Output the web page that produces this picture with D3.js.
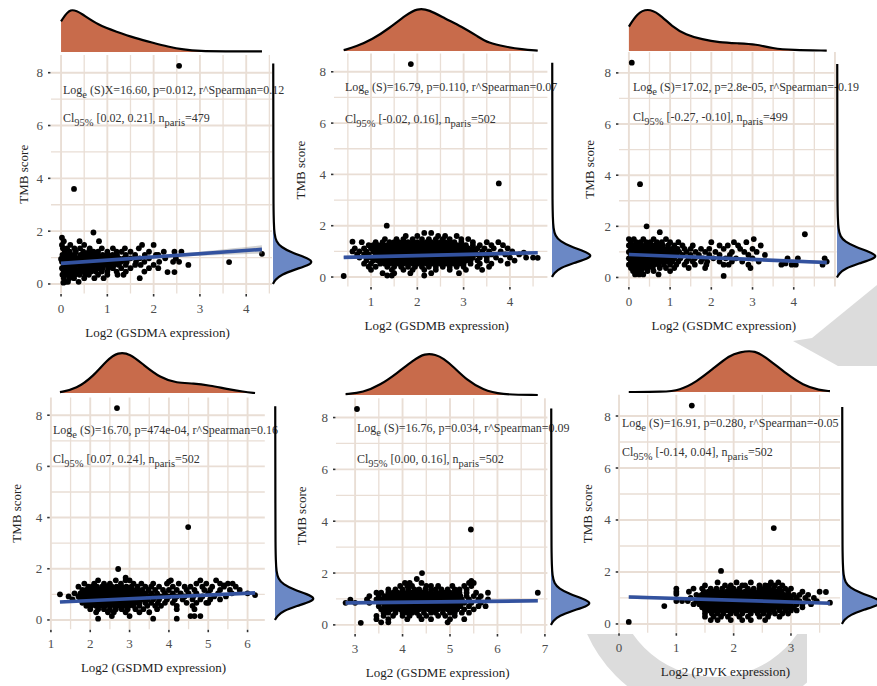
<!DOCTYPE html>
<html><head><meta charset="utf-8">
<script src="https://cdn.jsdelivr.net/npm/d3@7"></script>
<style>
body{margin:0;background:#fff}
svg{display:block}
</style>
</head><body>
<svg id="c" width="877" height="686" font-family="'Liberation Serif', 'DejaVu Serif', serif"></svg>
<script>
// ---------------- DATA ----------------
const genes = ["GSDMA","GSDMB","GSDMC","GSDMD","GSDME","PJVK"];
const xTicks = [[0,1,2,3,4],[1,2,3,4],[0,1,2,3,4],[1,2,3,4,5,6],[3,4,5,6,7],[0,1,2,3]];
const yTicks = [0,2,4,6,8];
const statS   = ["(S)X=16.60","(S)=16.79","(S)=17.02","(S)=16.70","(S)=16.76","(S)=16.91"];
const statP   = ["0.012","0.110","2.8e-05","474e-04","0.034","0.280"];
const statRho = ["0.12","0.07","-0.19","0.16","0.09","-0.05"];
const statCI  = ["[0.02, 0.21]","[-0.02, 0.16]","[-0.27, -0.10]","[0.07, 0.24]","[0.00, 0.16]","[-0.14, 0.04]"];
const statN   = [479,502,499,502,502,502];
// regression: [intercept, slope]; confidence half-width at [xmin, xmean, xmax]
const regFit  = [[0.78,0.122],[0.75,0.043],[0.90,-0.065],[0.61,0.0726],[0.795,0.0197],[1.05,-0.068]];
const regSE   = [[0.05,0.03,0.16],[0.05,0.02,0.06],[0.04,0.02,0.08],[0.05,0.02,0.06],[0.08,0.02,0.07],[0.08,0.02,0.06]];

// scatter points, rows "y: x x x ..." plus single "x,y" points
const ptsGSDMA = [
 "1.62:0.06 0.4 0.82",
 "1.48:0.02 0.2 0.5 1.75 2.0",
 "1.35:0.04 0.13 0.29 0.41 0.62 0.88 1.12 1.38 1.68",
 "1.22:0.08 0.19 0.32 0.48 0.6 0.7 0.8 1.0 1.2 1.31 1.5 1.9 2.22 2.45 2.6",
 "1.1:0.03 0.12 0.22 0.3 0.42 0.52 0.61 0.72 0.79 0.9 1.01 1.11 1.21 1.4 1.6 1.81 2.05 2.1",
 "0.97:0.06 0.15 0.25 0.35 0.45 0.55 0.65 0.75 0.85 0.95 1.05 1.15 1.25 1.35 1.5 1.7 1.9 2.25 2.48",
 "0.84:0.02 0.1 0.2 0.3 0.4 0.5 0.6 0.7 0.8 0.9 1.0 1.1 1.2 1.3 1.42 1.62 1.8 2.12 2.42 2.55",
 "0.72:0.06 0.15 0.25 0.35 0.45 0.55 0.65 0.75 0.85 0.95 1.05 1.15 1.25 1.4 1.6 1.72 2.0 2.75",
 "0.6:0.02 0.1 0.2 0.3 0.41 0.5 0.61 0.7 0.81 0.9 1.02 1.12 1.3 1.5 1.9 2.1",
 "0.47:0.06 0.15 0.25 0.35 0.45 0.55 0.65 0.75 0.88 1.0 1.2 1.4 1.8",
 "0.35:0.03 0.12 0.2 0.3 0.4 0.52 0.6 0.8 1.0 1.22 1.35",
 "0.22:0.06 0.18 0.28 0.5 0.72 0.92 1.7",
 "0.08:0.1 0.15 0.38",
 "2.55,8.26 0.28,3.6 3.63,0.83 4.34,1.14 0.02,1.75 0.7,1.95 2.3,0.45 2.45,0.45 0.0,0.95 0.05,0.05"
];
const ptsGSDMB = [
 "1.72:2.15 2.3",
 "1.6:1.75 2.0 2.45 2.6 2.85",
 "1.48:1.3 1.55 1.7 1.9 2.1 2.25 2.4 2.55 2.7 2.95 3.1",
 "1.36:0.8 1.1 1.25 1.4 1.5 1.6 1.7 1.8 1.9 2.0 2.1 2.2 2.3 2.4 2.5 2.6 2.7 2.8 2.95 3.2 3.5 3.75",
 "1.24:0.95 1.05 1.15 1.25 1.35 1.45 1.55 1.65 1.75 1.85 1.95 2.05 2.15 2.25 2.35 2.45 2.55 2.65 2.75 2.85 2.95 3.05 3.2 3.35 3.6 3.85",
 "1.12:0.65 0.85 1.0 1.1 1.2 1.3 1.4 1.5 1.6 1.7 1.8 1.9 2.0 2.1 2.2 2.3 2.4 2.5 2.6 2.7 2.8 2.9 3.0 3.1 3.2 3.3 3.45 3.65 3.95",
 "1.0:0.6 0.75 0.9 1.05 1.15 1.25 1.35 1.45 1.55 1.65 1.75 1.85 1.95 2.05 2.15 2.25 2.35 2.45 2.55 2.65 2.75 2.85 2.95 3.05 3.15 3.25 3.4 3.55 3.8 4.05",
 "0.88:0.7 0.85 0.95 1.1 1.2 1.3 1.4 1.5 1.6 1.7 1.8 1.9 2.0 2.1 2.2 2.3 2.4 2.5 2.6 2.7 2.8 2.9 3.0 3.1 3.2 3.3 3.45 3.6 3.9 4.2",
 "0.76:0.75 0.9 1.0 1.1 1.2 1.3 1.4 1.5 1.6 1.7 1.8 1.9 2.0 2.1 2.2 2.3 2.4 2.5 2.6 2.7 2.8 2.9 3.0 3.1 3.2 3.35 3.5 3.7 4.0 4.35 4.5",
 "0.64:0.9 1.05 1.15 1.25 1.35 1.45 1.55 1.65 1.75 1.85 1.95 2.05 2.15 2.25 2.35 2.45 2.55 2.65 2.75 2.85 2.95 3.05 3.15 3.3 3.5 3.8 4.1",
 "0.52:0.85 1.0 1.2 1.3 1.4 1.5 1.6 1.7 1.8 1.9 2.0 2.1 2.2 2.3 2.4 2.5 2.6 2.7 2.8 2.9 3.0 3.15 3.35 3.6 3.95",
 "0.4:0.95 1.1 1.35 1.5 1.65 1.8 1.95 2.1 2.25 2.4 2.55 2.7 2.85 3.0 3.3 3.55",
 "0.28:1.0 1.45 1.7 1.9 2.15 2.4 2.7 3.05 3.4",
 "0.15:1.25 1.5 1.85 2.3 2.9",
 "0.06:1.35 1.45 2.15",
 "1.86,8.3 3.76,3.65 1.34,2.0 0.41,0.04 4.6,0.75 0.6,1.38 4.3,0.95"
];
const ptsGSDMC = [
 "1.5:0.0 0.12 0.35 0.6 0.9 3.03",
 "1.38:0.05 0.18 0.28 0.42 0.52 0.68 0.8 1.0 1.2 2.0 2.55 2.85",
 "1.25:0.0 0.1 0.2 0.3 0.4 0.5 0.6 0.7 0.82 0.95 1.1 1.3 1.55 2.2 2.4 2.65 3.2",
 "1.12:0.05 0.15 0.25 0.35 0.45 0.55 0.65 0.75 0.85 0.95 1.05 1.18 1.35 1.5 1.75 1.95 2.3 2.7 3.0",
 "1.0:0.0 0.1 0.2 0.3 0.4 0.5 0.6 0.7 0.8 0.9 1.0 1.1 1.22 1.4 1.62 1.85 2.1 2.5 2.8 3.1",
 "0.88:0.05 0.15 0.25 0.35 0.45 0.55 0.65 0.75 0.85 0.95 1.05 1.15 1.3 1.5 1.7 1.95 2.2 2.45 2.9 3.3",
 "0.75:0.0 0.1 0.2 0.3 0.4 0.5 0.6 0.7 0.8 0.9 1.0 1.1 1.25 1.45 1.6 1.8 2.05 2.35 2.6 3.0 3.85 4.1 4.75",
 "0.62:0.05 0.15 0.25 0.35 0.45 0.55 0.65 0.75 0.85 0.95 1.05 1.2 1.4 1.55 1.75 1.9 2.2 2.5 2.75 3.15",
 "0.5:0.0 0.1 0.2 0.3 0.4 0.5 0.6 0.72 0.85 1.0 1.15 1.35 1.6 1.88 2.3 2.42 2.9 3.7 3.95 4.05 4.7",
 "0.37:0.05 0.15 0.25 0.35 0.45 0.58 0.75 0.9 1.1 1.45 1.85 2.95",
 "0.25:0.1 0.2 0.3 0.45 0.6 1.0",
 "0.12:0.15 0.25 0.35 0.72",
 "0.07,8.4 0.27,3.65 0.43,2.0 4.27,1.69 0.75,1.77 2.3,0.06 3.8,0.55 4.8,0.62"
];
const ptsGSDMD = [
 "1.55:2.2 2.65 2.9 3.0 4.05 4.8 5.2",
 "1.42:1.85 2.1 2.35 2.5 2.78 3.1 3.3 3.6 3.95 4.25 4.7 4.95 5.3 5.5 5.62",
 "1.3:1.7 1.95 2.05 2.17 2.3 2.42 2.55 2.67 2.8 2.92 3.05 3.2 3.4 3.55 3.75 4.1 4.4 4.55 4.85 5.1 5.4 5.7",
 "1.17:1.8 1.9 2.0 2.12 2.24 2.36 2.48 2.6 2.72 2.84 2.96 3.08 3.2 3.32 3.48 3.65 3.85 4.0 4.2 4.45 4.65 4.9 5.05 5.3 5.55 5.8",
 "1.04:1.6 1.75 1.85 1.97 2.09 2.21 2.33 2.45 2.57 2.69 2.81 2.93 3.05 3.17 3.29 3.41 3.55 3.7 3.9 4.1 4.3 4.5 4.7 5.0 5.25 5.6 6.0",
 "0.92:1.45 1.7 1.8 1.92 2.03 2.15 2.27 2.39 2.51 2.63 2.75 2.87 2.99 3.11 3.23 3.35 3.5 3.65 3.8 4.0 4.2 4.4 4.62 4.85 5.15 5.45",
 "0.8:1.55 1.75 1.88 2.0 2.12 2.24 2.36 2.48 2.6 2.72 2.84 2.96 3.08 3.2 3.32 3.45 3.6 3.75 3.95 4.15 4.35 4.6 4.8 5.05 5.3",
 "0.67:1.8 1.93 2.05 2.17 2.29 2.41 2.53 2.65 2.77 2.89 3.01 3.13 3.25 3.4 3.55 3.72 3.9 4.1 4.45 4.7 4.95 5.0",
 "0.55:1.9 2.02 2.14 2.26 2.38 2.5 2.62 2.74 2.86 2.98 3.1 3.25 3.45 3.65 3.8 4.2 4.6",
 "0.42:2.0 2.2 2.35 2.5 2.65 2.8 2.95 3.15 3.35 3.7 4.2 4.65",
 "0.3:2.15 2.45 2.6 2.9 3.25 3.5",
 "0.15:2.55 3.0 4.55 4.65 4.8",
 "0.05:2.2 3.6 4.2",
 "2.68,8.28 4.49,3.63 2.71,1.99 1.23,1.0 6.19,0.97 2.9,1.65 4.0,1.5 5.4,1.35"
];
const ptsGSDME = [
 "1.62:4.05 4.15 4.4 5.4 5.5",
 "1.5:3.95 4.1 4.2 4.5 4.6 4.75 5.05 5.3 5.45",
 "1.37:3.7 3.85 4.0 4.12 4.25 4.35 4.48 4.6 4.7 4.82 4.95 5.1 5.2 5.35",
 "1.24:3.45 3.55 3.7 3.8 3.9 4.0 4.1 4.2 4.3 4.4 4.5 4.6 4.7 4.8 4.9 5.0 5.1 5.2 5.35 5.55 5.8",
 "1.11:3.3 3.5 3.62 3.72 3.82 3.92 4.02 4.12 4.22 4.32 4.42 4.52 4.62 4.72 4.82 4.92 5.02 5.12 5.22 5.35 5.5 5.65",
 "0.98:3.25 3.45 3.55 3.65 3.75 3.85 3.95 4.05 4.15 4.25 4.35 4.45 4.55 4.65 4.75 4.85 4.95 5.05 5.15 5.25 5.4 5.6 5.8",
 "0.85:3.0 3.3 3.5 3.6 3.7 3.8 3.9 4.0 4.1 4.2 4.3 4.4 4.5 4.6 4.7 4.8 4.9 5.0 5.1 5.2 5.3 5.45 5.65",
 "0.72:3.5 3.62 3.72 3.82 3.92 4.02 4.12 4.22 4.32 4.42 4.52 4.62 4.72 4.82 4.92 5.02 5.12 5.22 5.4 5.6 5.75",
 "0.6:3.55 3.65 3.75 3.85 3.95 4.05 4.15 4.25 4.35 4.45 4.55 4.65 4.75 4.85 4.95 5.05 5.15 5.3 5.5",
 "0.47:3.6 3.7 3.85 4.0 4.1 4.2 4.3 4.45 4.6 4.7 4.85 5.0 5.1 5.25 5.4",
 "0.35:3.45 3.6 3.8 4.0 4.15 4.35 4.5 4.75 4.9 5.1",
 "0.22:3.45 3.7 4.1 4.4 4.6 5.0 5.3",
 "0.1:3.55 3.7 4.95",
 "3.04,8.33 5.44,3.68 4.41,2.0 6.85,1.24 2.9,0.97 3.12,0.08 4.3,1.77 5.45,1.7 2.8,0.85"
];
const ptsPJVK = [
 "1.6:1.72 2.05 2.3 2.65 2.78",
 "1.48:1.5 1.85 1.95 2.15 2.2 2.45 2.55 2.62 2.72 2.85",
 "1.36:1.0 1.3 1.45 1.6 1.7 1.8 1.92 2.0 2.1 2.25 2.35 2.45 2.53 2.61 2.7 2.8 2.9 3.0",
 "1.24:1.0 1.22 1.48 1.56 1.64 1.72 1.8 1.88 1.96 2.04 2.12 2.2 2.28 2.36 2.44 2.52 2.6 2.68 2.76 2.84 2.95 3.2 3.5",
 "1.12:1.35 1.44 1.52 1.6 1.68 1.76 1.84 1.92 2.0 2.08 2.16 2.24 2.32 2.4 2.48 2.56 2.64 2.72 2.8 2.88 2.96 3.05 3.15 3.3",
 "1.0:1.25 1.4 1.48 1.56 1.64 1.72 1.8 1.88 1.96 2.04 2.12 2.2 2.28 2.36 2.44 2.52 2.6 2.68 2.76 2.84 2.92 3.0 3.1 3.25 3.4",
 "0.88:1.0 1.1 1.2 1.35 1.44 1.52 1.6 1.68 1.76 1.84 1.92 2.0 2.08 2.16 2.24 2.32 2.4 2.48 2.56 2.64 2.72 2.8 2.88 2.96 3.05 3.15 3.3 3.45",
 "0.76:1.3 1.4 1.48 1.56 1.64 1.72 1.8 1.88 1.96 2.04 2.12 2.2 2.28 2.36 2.44 2.52 2.6 2.68 2.76 2.84 2.92 3.0 3.1 3.2 3.35",
 "0.64:1.45 1.52 1.6 1.68 1.76 1.84 1.92 2.0 2.08 2.16 2.24 2.32 2.4 2.48 2.56 2.64 2.72 2.8 2.88 2.96 3.05 3.2",
 "0.52:1.5 1.58 1.66 1.74 1.82 1.9 1.98 2.06 2.14 2.22 2.3 2.38 2.46 2.54 2.62 2.7 2.8 2.9 3.0 3.1",
 "0.4:1.5 1.62 1.72 1.82 1.95 2.05 2.15 2.3 2.42 2.52 2.62 2.72 2.85 2.95",
 "0.28:1.5 1.65 1.78 1.9 2.1 2.25 2.45 2.6 2.8",
 "0.15:1.6 1.72 1.95 2.15 2.3 2.55",
 "1.27,8.4 2.7,3.69 1.78,2.04 0.17,0.08 0.79,0.69 3.61,1.23 3.68,0.82 1.0,1.15"
];
const allPts = [ptsGSDMA, ptsGSDMB, ptsGSDMC, ptsGSDMD, ptsGSDME, ptsPJVK];

// marginal densities of expression (x, relative height)
const densGSDMA = [[0,0.68],[0.2,1.0],[0.45,0.85],[0.8,0.6],[1.2,0.45],[1.6,0.31],[2.0,0.2],[2.3,0.12],[2.65,0.05],[3.0,0.02],[3.5,0.015],[4.34,0.015]];
const densGSDMB = [[0.41,0.02],[0.67,0.1],[1.03,0.27],[1.39,0.53],[1.75,0.84],[2.0,1.0],[2.25,0.97],[2.6,0.76],[2.96,0.57],[3.32,0.33],[3.53,0.19],[3.9,0.1],[4.26,0.04],[4.6,0.01]];
const densGSDMC = [[0.0,0.57],[0.2,0.88],[0.45,1.0],[0.73,0.88],[1.05,0.57],[1.38,0.38],[1.78,0.27],[2.19,0.2],[2.67,0.18],[3.08,0.16],[3.48,0.06],[3.97,0.02],[4.8,0.01]];
const densGSDMD = [[1.23,0.02],[1.65,0.1],[2.08,0.41],[2.42,0.8],[2.71,1.0],[3.01,0.96],[3.35,0.69],[3.78,0.37],[4.2,0.24],[4.63,0.24],[5.05,0.18],[5.47,0.1],[5.9,0.03],[6.19,0.0]];
const densGSDME = [[2.8,0.02],[3.17,0.06],[3.53,0.24],[3.88,0.52],[4.23,0.84],[4.47,1.0],[4.7,0.97],[4.86,0.88],[5.07,0.68],[5.35,0.36],[5.7,0.12],[6.05,0.01],[6.85,0.0]];
const densPJVK  = [[0.17,0.0],[0.77,0.0],[1.06,0.04],[1.35,0.24],[1.64,0.55],[1.93,0.87],[2.1,0.94],[2.37,1.0],[2.63,0.75],[2.92,0.43],[3.21,0.16],[3.5,0.04],[3.68,0.02]];
const allDens = [densGSDMA, densGSDMB, densGSDMC, densGSDMD, densGSDME, densPJVK];
// marginal density of TMB score (TMB, relative width)
const densTMB = [[0.0,0.0],[0.15,0.05],[0.35,0.2],[0.55,0.55],[0.72,0.9],[0.85,1.0],[1.0,0.82],[1.2,0.45],[1.4,0.2],[1.6,0.08],[1.9,0.035],[2.3,0.02],[3.0,0.012],[4.0,0.01],[8.35,0.006]];

// ---------------- LAYOUT ----------------
const layout = [
 {l:51,  r:272,   t:55,    b:293.5, topBase:52,  topH:45,   rBase:273, rW:40, yLabX:23,  sx:63,  s1:94,  s2:122},
 {l:334, r:547.4, t:53.5,  b:286.6, topBase:51,  topH:42.7, rBase:552, rW:40, yLabX:300, sx:345, s1:91,  s2:123},
 {l:619, r:836.6, t:52,    b:286.6, topBase:51,  topH:42.7, rBase:837, rW:40, yLabX:589, sx:633, s1:91,  s2:121},
 {l:50.2,r:264.8, t:397.5, b:629.2, topBase:393, topH:41,   rBase:275, rW:40, yLabX:16,  sx:53,  s1:434, s2:463},
 {l:336, r:547.4, t:398.3, b:633.5, topBase:395, topH:41.7, rBase:551, rW:40, yLabX:301, sx:357, s1:432, s2:463},
 {l:618.7,r:840,  t:394.8, b:632.7, topBase:392, topH:42.3, rBase:842, rW:40, yLabX:587, sx:622, s1:427, s2:456}
];

const gridCol = "#e9ded5", ptCol = "#000", lineCol = "#33529f";
const topFill = "#c86b4b", rightFill = "#6b88c5", markCol = "#dcdcdc";
const FONT = "'Liberation Serif', 'DejaVu Serif', serif";

function parsePts(rows){
  const out=[];
  rows.forEach(r=>{
    if(r.indexOf(":")>=0){
      const [y,xs]=r.split(":");
      xs.trim().split(/\s+/).forEach(x=>out.push([+x,+y]));
    } else {
      r.trim().split(/\s+/).forEach(p=>{const [x,y]=p.split(","); out.push([+x,+y]);});
    }
  });
  return out;
}
function expand(ext){const d=(ext[1]-ext[0])*0.05;return [ext[0]-d,ext[1]+d];}

const svg = d3.select("#c");
svg.append("rect").attr("width",877).attr("height",686).attr("fill","#fff");

// light gray page watermark behind the figure
const wm = svg.append("g").attr("fill",markCol);
wm.append("path").attr("d","M877,285 L877,366 L838,366 L793,341 L812,338 Z");
svg.append("clipPath").attr("id","wmclip").append("rect").attr("x",585).attr("y",634).attr("width",222).attr("height",60);
wm.append("g").attr("clip-path","url(#wmclip)")
  .append("path")
  .attr("d",d3.arc().innerRadius(100).outerRadius(140).startAngle(0).endAngle(2*Math.PI)())
  .attr("transform","translate(715,577)");

genes.forEach((g,i)=>{
  const L = layout[i];
  const pts = parsePts(allPts[i]);
  const xExt = d3.extent(pts,d=>d[0]), yExt = d3.extent(pts,d=>d[1]);
  const xs = d3.scaleLinear().domain(expand(xExt)).range([L.l,L.r]);
  const ys = d3.scaleLinear().domain(expand(yExt)).range([L.b,L.t]);
  const G = svg.append("g").attr("font-family",FONT);

  // panel background + grid
  G.append("rect").attr("x",L.l).attr("y",L.t).attr("width",L.r-L.l).attr("height",L.b-L.t).attr("fill","#fff");
  const xd = xs.domain(), yd = ys.domain();
  const gx = d3.range(Math.ceil(xd[0]*2)/2, xd[1]+1e-9, 0.5);
  const gy = d3.range(Math.ceil(yd[0]), yd[1]+1e-9, 1);
  G.selectAll(".gx").data(gx).join("line")
    .attr("x1",d=>xs(d)).attr("x2",d=>xs(d)).attr("y1",L.t).attr("y2",L.b)
    .attr("stroke",gridCol).attr("stroke-width",d=>Number.isInteger(d)?1.9:1.3);
  G.selectAll(".gy").data(gy).join("line")
    .attr("y1",d=>ys(d)).attr("y2",d=>ys(d)).attr("x1",L.l).attr("x2",L.r)
    .attr("stroke",gridCol).attr("stroke-width",d=>d%2===0?1.9:1.3);

  // ticks + labels
  G.selectAll(".tx").data(xTicks[i]).join("line")
    .attr("x1",d=>xs(d)).attr("x2",d=>xs(d)).attr("y1",L.b+0.5).attr("y2",L.b+3)
    .attr("stroke","#333").attr("stroke-width",1.6);
  G.selectAll(".lx").data(xTicks[i]).join("text")
    .attr("x",d=>xs(d)).attr("y",L.b+19).attr("text-anchor","middle")
    .attr("font-size",13).attr("fill","#4d4d4d").text(d=>d);
  G.selectAll(".ty").data(yTicks).join("line")
    .attr("y1",d=>ys(d)).attr("y2",d=>ys(d)).attr("x1",L.l-3).attr("x2",L.l-0.5)
    .attr("stroke","#333").attr("stroke-width",1.6);
  G.selectAll(".ly").data(yTicks).join("text")
    .attr("x",L.l-8).attr("y",d=>ys(d)+4.5).attr("text-anchor","end")
    .attr("font-size",13).attr("fill","#4d4d4d").text(d=>d);

  // axis titles
  G.append("text").attr("x",(L.l+L.r)/2-4).attr("y",L.b+43).attr("text-anchor","middle")
    .attr("font-size",13).attr("fill","#222").text(`Log2 (${g} expression)`);
  G.append("text").attr("transform",`translate(${L.yLabX+4.5},${(L.t+L.b)/2}) rotate(-90)`)
    .attr("text-anchor","middle").attr("font-size",13).attr("fill","#222").text("TMB score");

  // points
  G.selectAll(".pt").data(pts).join("circle")
    .attr("cx",d=>xs(d[0])).attr("cy",d=>ys(d[1])).attr("r",2.9).attr("fill",ptCol);

  // regression band + line
  const [a,b] = regFit[i], se = regSE[i];
  const xm = d3.mean(pts,d=>d[0]);
  const seAt = x => x<xm ? se[1]+(se[0]-se[1])*Math.pow((xm-x)/(xm-xExt[0]),2)
                         : se[1]+(se[2]-se[1])*Math.pow((x-xm)/(xExt[1]-xm),2);
  const bx = d3.range(0,31).map(k=>xExt[0]+(xExt[1]-xExt[0])*k/30);
  G.append("path").datum(bx)
    .attr("d",d3.area().x(x=>xs(x)).y0(x=>ys(a+b*x-seAt(x))).y1(x=>ys(a+b*x+seAt(x))))
    .attr("fill","#9a9a9a").attr("opacity",0.45);
  G.append("line").attr("x1",xs(xExt[0])).attr("x2",xs(xExt[1]))
    .attr("y1",ys(a+b*xExt[0])).attr("y2",ys(a+b*xExt[1]))
    .attr("stroke",lineCol).attr("stroke-width",3.6);

  // stats annotation
  const t1 = G.append("text").attr("x",L.sx).attr("y",L.s1).attr("font-size",12).attr("fill","#333");
  t1.append("tspan").text("Log");
  t1.append("tspan").attr("dy",4).attr("font-size",10.5).text("e");
  t1.append("tspan").attr("dy",-4).text(` ${statS[i]}, p=${statP[i]}, r^Spearman=${statRho[i]}`);
  const t2 = G.append("text").attr("x",L.sx).attr("y",L.s2).attr("font-size",12).attr("fill","#333");
  t2.append("tspan").text("Cl");
  t2.append("tspan").attr("dy",4).attr("font-size",10.5).text("95%");
  t2.append("tspan").attr("dy",-4).text(` ${statCI[i]}, n`);
  t2.append("tspan").attr("dy",4).attr("font-size",10.5).text("paris");
  t2.append("tspan").attr("dy",-4).text(`=${statN[i]}`);

  // top marginal density
  const dens = allDens[i];
  const hs = d3.scaleLinear().domain([0,1]).range([L.topBase,L.topBase-L.topH]);
  G.append("path").datum(dens)
    .attr("d",d3.area().curve(d3.curveBasis).x(d=>xs(d[0])).y0(L.topBase).y1(d=>hs(d[1])))
    .attr("fill",topFill);
  G.append("path").datum(dens)
    .attr("d",d3.line().curve(d3.curveBasis).x(d=>xs(d[0])).y(d=>hs(d[1])))
    .attr("fill","none").attr("stroke","#000").attr("stroke-width",2.2);

  // right marginal density
  const ws = d3.scaleLinear().domain([0,1]).range([L.rBase,L.rBase+L.rW]);
  G.append("path").datum(densTMB)
    .attr("d",d3.area().curve(d3.curveBasis).y(d=>ys(d[0])).x0(L.rBase).x1(d=>ws(d[1])))
    .attr("fill",rightFill);
  G.append("path").datum(densTMB)
    .attr("d",d3.line().curve(d3.curveBasis).y(d=>ys(d[0])).x(d=>ws(d[1])))
    .attr("fill","none").attr("stroke","#000").attr("stroke-width",2.2);
});
</script>
</body></html>
